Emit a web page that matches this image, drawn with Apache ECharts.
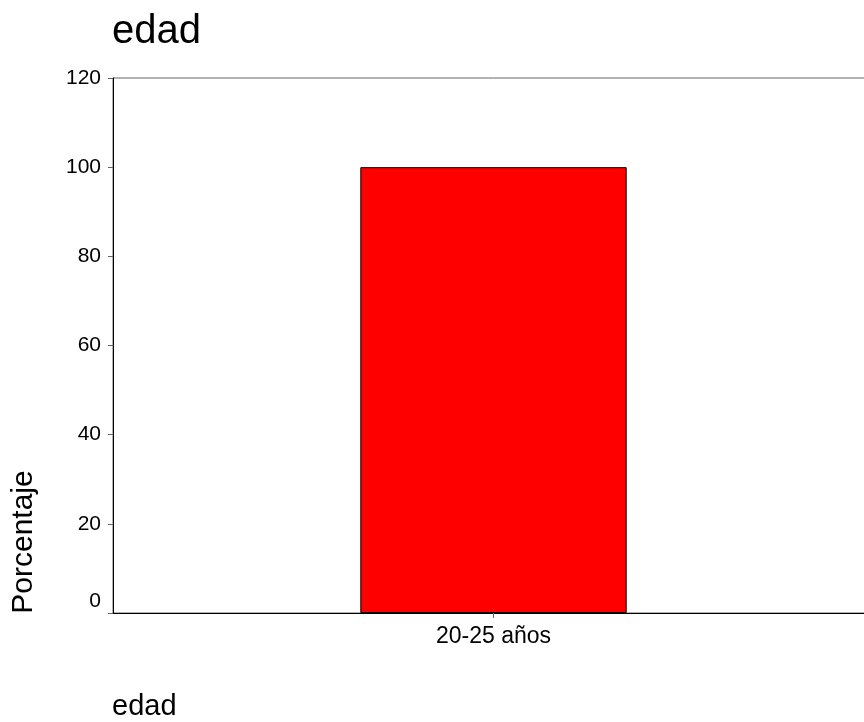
<!DOCTYPE html>
<html>
<head>
<meta charset="utf-8">
<script src="https://cdn.jsdelivr.net/npm/echarts@6/dist/echarts.min.js"></script>
<style>html,body{margin:0;padding:0;background:#fff;overflow:hidden;}#c{width:874px;height:722px;}</style>
</head>
<body>
<div id="c"></div>
<script>
const categories = ['20-25 años'];
const values = [100];
const yTicks = [0, 20, 40, 60, 80, 100, 120];
const titleText = 'edad';
const xName = 'edad';
const yName = 'Porcentaje';

const FONT = "'Liberation Sans', Arial, sans-serif";
const chart = echarts.init(document.getElementById('c'));
chart.setOption({
  animation: false,
  backgroundColor: '#fff',
  grid: { left: 113, top: 78, right: 0, height: 535, show: true, borderColor: '#666', borderWidth: 1, backgroundColor: 'transparent' },
  xAxis: {
    type: 'category',
    data: categories,
    axisLine: { lineStyle: { color: '#000', width: 1 } },
    axisTick: { show: true, alignWithLabel: true, length: 5, lineStyle: { color: '#666' } },
    axisLabel: { color: '#000', fontSize: 23, fontFamily: FONT, margin: 12 }
  },
  yAxis: {
    type: 'value',
    min: yTicks[0],
    max: yTicks[yTicks.length - 1],
    interval: yTicks[1] - yTicks[0],
    splitLine: { show: false },
    axisLine: { show: true, lineStyle: { color: '#000', width: 1 } },
    axisTick: { show: true, length: 5, lineStyle: { color: '#666' } },
    axisLabel: {
      color: '#000', fontSize: 21, fontFamily: FONT, margin: 12,
      formatter: function (v) { return v === yTicks[0] ? '{z|' + v + '}' : String(v); },
      rich: { z: { fontSize: 21, fontFamily: FONT, color: '#000', padding: [0, 0, 24, 0] } }
    }
  },
  series: [{
    type: 'bar',
    data: values,
    barWidth: '35%',
    itemStyle: { color: '#ff0000', borderColor: '#000', borderWidth: 1 }
  }],
  graphic: [
    { type: 'text', left: 112, top: 12, style: { text: titleText, font: '40px ' + FONT, fill: '#000' } },
    { type: 'text', x: 112, y: 707, style: { text: xName, font: '29px ' + FONT, fill: '#000', textAlign: 'left', textVerticalAlign: 'middle' } },
    { type: 'text', x: 24, y: 542, rotation: Math.PI / 2, style: { text: yName, font: '30px ' + FONT, fill: '#000', textAlign: 'center', textVerticalAlign: 'middle' } }
  ]
});
</script>
</body>
</html>
